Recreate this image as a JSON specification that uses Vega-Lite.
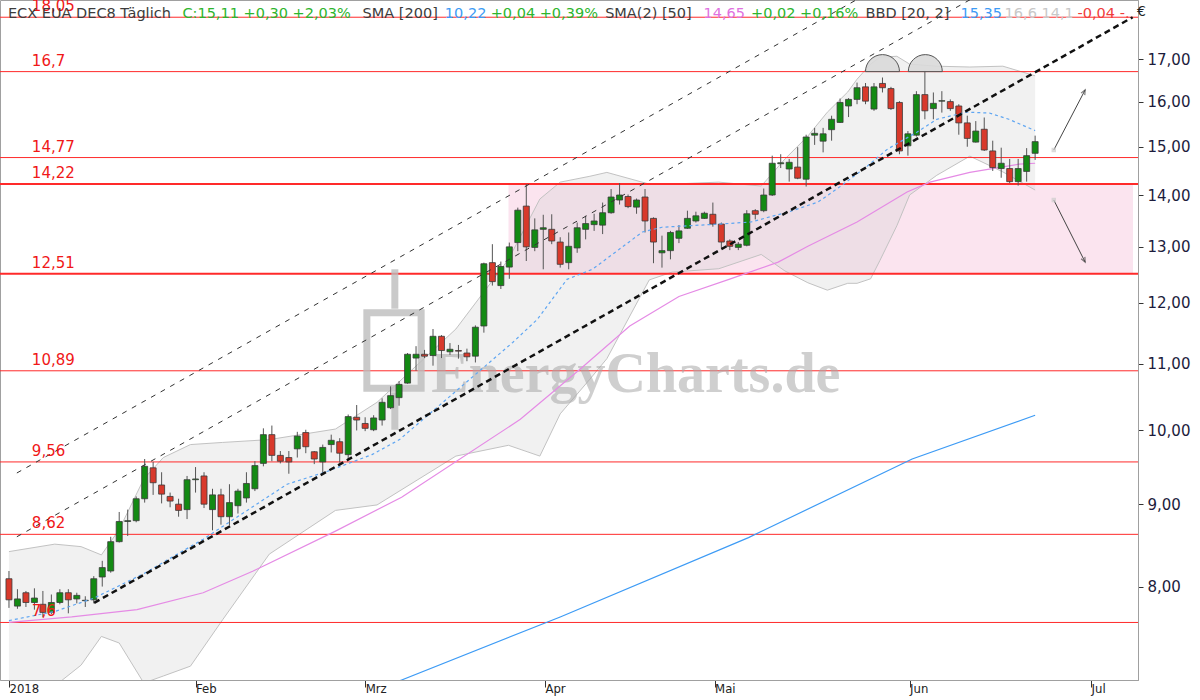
{
  "$schema": "https://vega.github.io/schema/vega-lite/v6.json",
  "width": 1138,
  "height": 680,
  "autosize": "none",
  "padding": {"left": 0, "top": 0, "right": 62, "bottom": 20},
  "background": "white",
  "config": {
    "view": {"stroke": "#a0a0a0", "strokeWidth": 1},
    "axis": {"grid": false}
  },
  "datasets": {
    "candles": [
      {"t":0,"o":8.09,"h":8.18,"l":7.76,"c":7.85},{"t":1,"o":7.78,"h":7.97,"l":7.75,"c":7.86},{"t":2,"o":7.93,"h":7.95,"l":7.77,"c":7.82},{"t":3,"o":7.82,"h":7.98,"l":7.74,"c":7.87},{"t":4,"o":7.80,"h":7.95,"l":7.66,"c":7.71},{"t":5,"o":7.71,"h":7.91,"l":7.69,"c":7.82},{"t":6,"o":7.82,"h":7.97,"l":7.80,"c":7.93},{"t":7,"o":7.93,"h":7.97,"l":7.70,"c":7.85},{"t":8,"o":7.86,"h":7.93,"l":7.81,"c":7.90},{"t":9,"o":7.84,"h":7.89,"l":7.77,"c":7.845},
      {"t":10,"o":7.85,"h":8.12,"l":7.81,"c":8.09},{"t":11,"o":8.11,"h":8.30,"l":8.00,"c":8.22},{"t":12,"o":8.18,"h":8.59,"l":8.16,"c":8.53},{"t":13,"o":8.53,"h":8.90,"l":8.52,"c":8.78},{"t":14,"o":8.78,"h":8.93,"l":8.60,"c":8.79},{"t":15,"o":8.79,"h":9.10,"l":8.77,"c":9.07},{"t":16,"o":9.07,"h":9.60,"l":9.02,"c":9.50},{"t":17,"o":9.48,"h":9.56,"l":9.12,"c":9.28},{"t":18,"o":9.25,"h":9.42,"l":9.01,"c":9.13},{"t":19,"o":9.10,"h":9.15,"l":8.96,"c":9.04},
      {"t":20,"o":9.00,"h":9.07,"l":8.84,"c":8.92},{"t":21,"o":8.93,"h":9.37,"l":8.81,"c":9.32},{"t":22,"o":9.32,"h":9.49,"l":9.15,"c":9.33},{"t":23,"o":9.37,"h":9.42,"l":8.95,"c":9.00},{"t":24,"o":8.93,"h":9.20,"l":8.67,"c":9.12},{"t":25,"o":9.12,"h":9.20,"l":8.74,"c":8.84},{"t":26,"o":8.84,"h":9.26,"l":8.73,"c":9.02},{"t":27,"o":8.98,"h":9.20,"l":8.88,"c":9.17},{"t":28,"o":9.08,"h":9.42,"l":9.02,"c":9.27},{"t":29,"o":9.20,"h":9.57,"l":9.17,"c":9.51},
      {"t":30,"o":9.54,"h":10.03,"l":9.50,"c":9.94},{"t":31,"o":9.94,"h":10.07,"l":9.57,"c":9.65},{"t":32,"o":9.65,"h":9.71,"l":9.54,"c":9.57},{"t":33,"o":9.62,"h":9.71,"l":9.40,"c":9.56},{"t":34,"o":9.74,"h":9.98,"l":9.62,"c":9.92},{"t":35,"o":9.97,"h":10.01,"l":9.68,"c":9.77},{"t":36,"o":9.70,"h":9.71,"l":9.53,"c":9.60},{"t":37,"o":9.56,"h":9.80,"l":9.41,"c":9.76},{"t":38,"o":9.80,"h":9.94,"l":9.69,"c":9.86},{"t":39,"o":9.84,"h":9.89,"l":9.55,"c":9.68},
      {"t":40,"o":9.66,"h":10.23,"l":9.60,"c":10.20},{"t":41,"o":10.19,"h":10.37,"l":10.00,"c":10.15},{"t":42,"o":10.10,"h":10.19,"l":9.99,"c":10.03},{"t":43,"o":10.01,"h":10.22,"l":9.99,"c":10.18},{"t":44,"o":10.15,"h":10.47,"l":10.07,"c":10.41},{"t":45,"o":10.33,"h":10.65,"l":10.31,"c":10.51},{"t":46,"o":10.48,"h":10.73,"l":10.36,"c":10.68},{"t":47,"o":10.70,"h":11.17,"l":10.69,"c":11.15},{"t":48,"o":11.09,"h":11.28,"l":10.89,"c":11.15},{"t":49,"o":11.15,"h":11.22,"l":11.09,"c":11.12},
      {"t":50,"o":11.13,"h":11.56,"l":10.97,"c":11.44},{"t":51,"o":11.44,"h":11.46,"l":11.09,"c":11.21},{"t":52,"o":11.19,"h":11.33,"l":11.14,"c":11.23},{"t":53,"o":11.21,"h":11.30,"l":11.08,"c":11.20},{"t":54,"o":11.17,"h":11.24,"l":11.04,"c":11.11},{"t":55,"o":11.12,"h":11.62,"l":11.02,"c":11.59},{"t":56,"o":11.61,"h":12.71,"l":11.50,"c":12.69},{"t":57,"o":12.71,"h":13.05,"l":12.30,"c":12.37},{"t":58,"o":12.30,"h":12.73,"l":12.24,"c":12.64},{"t":59,"o":12.63,"h":13.08,"l":12.42,"c":13.00},
      {"t":60,"o":13.08,"h":13.75,"l":12.92,"c":13.70},{"t":61,"o":13.78,"h":14.22,"l":12.74,"c":13.00},{"t":62,"o":12.99,"h":13.54,"l":12.92,"c":13.32},{"t":63,"o":13.33,"h":13.61,"l":12.59,"c":13.36},{"t":64,"o":13.33,"h":13.62,"l":13.05,"c":13.11},{"t":65,"o":13.09,"h":13.18,"l":12.62,"c":12.68},{"t":66,"o":12.71,"h":13.27,"l":12.59,"c":13.01},{"t":67,"o":12.98,"h":13.46,"l":12.89,"c":13.36},{"t":68,"o":13.33,"h":13.59,"l":13.14,"c":13.44},{"t":69,"o":13.42,"h":13.63,"l":13.30,"c":13.49},
      {"t":70,"o":13.41,"h":13.85,"l":13.24,"c":13.65},{"t":71,"o":13.65,"h":14.12,"l":13.63,"c":13.96},{"t":72,"o":13.90,"h":14.24,"l":13.81,"c":14.00},{"t":73,"o":13.97,"h":14.01,"l":13.74,"c":13.77},{"t":74,"o":13.76,"h":13.93,"l":13.63,"c":13.90},{"t":75,"o":13.96,"h":14.12,"l":13.27,"c":13.49},{"t":76,"o":13.54,"h":13.56,"l":12.70,"c":13.09},{"t":77,"o":12.89,"h":13.21,"l":12.62,"c":12.93},{"t":78,"o":12.93,"h":13.30,"l":12.77,"c":13.27},{"t":79,"o":13.16,"h":13.41,"l":13.07,"c":13.30},
      {"t":80,"o":13.35,"h":13.69,"l":13.34,"c":13.54},{"t":81,"o":13.49,"h":13.67,"l":13.46,"c":13.59},{"t":82,"o":13.54,"h":13.67,"l":13.53,"c":13.64},{"t":83,"o":13.62,"h":13.85,"l":13.38,"c":13.43},{"t":84,"o":13.43,"h":13.46,"l":12.98,"c":13.09},{"t":85,"o":13.11,"h":13.14,"l":12.94,"c":13.01},{"t":86,"o":12.99,"h":13.09,"l":12.94,"c":13.05},{"t":87,"o":13.03,"h":13.70,"l":13.01,"c":13.63},{"t":88,"o":13.69,"h":13.72,"l":13.52,"c":13.62},{"t":89,"o":13.69,"h":14.13,"l":13.66,"c":14.00},
      {"t":90,"o":14.00,"h":14.81,"l":13.98,"c":14.65},{"t":91,"o":14.64,"h":14.84,"l":14.55,"c":14.66},{"t":92,"o":14.53,"h":14.74,"l":14.27,"c":14.67},{"t":93,"o":14.57,"h":14.99,"l":14.32,"c":14.34},{"t":94,"o":14.32,"h":15.26,"l":14.17,"c":15.21},{"t":95,"o":15.25,"h":15.41,"l":15.04,"c":15.29},{"t":96,"o":15.12,"h":15.41,"l":14.88,"c":15.28},{"t":97,"o":15.37,"h":15.68,"l":15.13,"c":15.60},{"t":98,"o":15.53,"h":16.07,"l":15.52,"c":15.98},{"t":99,"o":15.90,"h":16.08,"l":15.65,"c":16.05},
      {"t":100,"o":16.05,"h":16.44,"l":15.94,"c":16.32},{"t":101,"o":16.34,"h":16.43,"l":15.94,"c":16.01},{"t":102,"o":15.83,"h":16.43,"l":15.79,"c":16.34},{"t":103,"o":16.42,"h":16.56,"l":16.21,"c":16.32},{"t":104,"o":16.30,"h":16.34,"l":15.81,"c":15.84},{"t":105,"o":15.98,"h":16.01,"l":14.84,"c":14.91},{"t":106,"o":15.02,"h":15.34,"l":14.81,"c":15.28},{"t":107,"o":15.25,"h":16.24,"l":15.22,"c":16.16},{"t":108,"o":16.16,"h":16.72,"l":15.60,"c":15.79},{"t":109,"o":15.84,"h":16.21,"l":15.60,"c":15.96},
      {"t":110,"o":16.01,"h":16.24,"l":15.75,"c":16.02},{"t":111,"o":16.00,"h":16.05,"l":15.79,"c":15.84},{"t":112,"o":15.90,"h":15.94,"l":15.26,"c":15.52},{"t":113,"o":15.52,"h":15.68,"l":15.00,"c":15.18},{"t":114,"o":15.10,"h":15.56,"l":15.09,"c":15.34},{"t":115,"o":15.38,"h":15.64,"l":14.91,"c":14.93},{"t":116,"o":14.91,"h":15.13,"l":14.49,"c":14.56},{"t":117,"o":14.54,"h":14.98,"l":14.35,"c":14.65},{"t":118,"o":14.54,"h":14.74,"l":14.24,"c":14.27},{"t":119,"o":14.27,"h":14.74,"l":14.19,"c":14.54},
      {"t":120,"o":14.48,"h":14.97,"l":14.27,"c":14.81},{"t":121,"o":14.86,"h":15.24,"l":14.72,"c":15.11}
    ],
    "bb": [
      {"t":0,"up":8.41,"lo":6.83},{"t":5.4,"up":8.50,"lo":6.94},{"t":8.5,"up":8.47,"lo":7.15},{"t":10.9,"up":8.37,"lo":7.45},{"t":13,"up":8.68,"lo":7.38},{"t":15.9,"up":9.33,"lo":6.97},{"t":18.2,"up":9.62,"lo":7.04},{"t":21.4,"up":9.80,"lo":7.14},{"t":25.2,"up":9.83,"lo":7.63},{"t":30.7,"up":9.87,"lo":8.38},{"t":38.5,"up":10.02,"lo":8.92},{"t":43.4,"up":10.41,"lo":8.99},{"t":52.7,"up":11.56,"lo":9.64},{"t":58.9,"up":12.77,"lo":9.79},{"t":62.6,"up":13.92,"lo":9.64},{"t":65,"up":14.26,"lo":10.24},{"t":68.5,"up":14.38,"lo":10.76},{"t":70.5,"up":14.46,"lo":11.08},{"t":75.5,"up":14.22,"lo":12.40},{"t":78.2,"up":14.22,"lo":12.54},{"t":83.7,"up":14.26,"lo":12.60},{"t":88.7,"up":14.18,"lo":12.86},{"t":91.5,"up":14.74,"lo":12.56},{"t":94.2,"up":15.23,"lo":12.35},{"t":96.5,"up":15.76,"lo":12.22},{"t":98.9,"up":16.22,"lo":12.34},{"t":100,"up":16.52,"lo":12.34},{"t":101.6,"up":16.88,"lo":12.42},{"t":102.7,"up":17.05,"lo":12.75},{"t":104.7,"up":17.07,"lo":13.40},{"t":106.2,"up":16.88,"lo":14.00},{"t":109.4,"up":16.83,"lo":14.40},{"t":113.3,"up":16.81,"lo":14.80},{"t":117.2,"up":16.83,"lo":14.47},{"t":121,"up":16.60,"lo":14.10}
    ],
    "mid": [
      {"t":0,"v":7.62},{"t":5.4,"v":7.72},{"t":10.05,"v":7.87},{"t":15.9,"v":8.15},{"t":22.9,"v":8.56},{"t":32.8,"v":9.26},{"t":37.5,"v":9.43},{"t":42.8,"v":9.66},{"t":46.05,"v":9.87},{"t":59.4,"v":11.34},{"t":62.3,"v":11.72},{"t":65.8,"v":12.41},{"t":68.8,"v":12.59},{"t":72,"v":12.96},{"t":74.7,"v":13.28},{"t":77,"v":13.37},{"t":83.7,"v":13.43},{"t":87.5,"v":13.47},{"t":92.2,"v":13.68},{"t":95.4,"v":13.86},{"t":98.1,"v":14.18},{"t":101.2,"v":14.59},{"t":103.6,"v":14.95},{"t":107.1,"v":15.32},{"t":109.4,"v":15.60},{"t":112.9,"v":15.76},{"t":115.6,"v":15.74},{"t":117.9,"v":15.60},{"t":121,"v":15.35}
    ],
    "sma50": [
      {"t":0,"v":7.60},{"t":7.4,"v":7.66},{"t":15.1,"v":7.74},{"t":22.9,"v":7.93},{"t":28.8,"v":8.18},{"t":38.5,"v":8.66},{"t":46.3,"v":9.09},{"t":60.3,"v":10.16},{"t":67.3,"v":10.91},{"t":73.2,"v":11.61},{"t":79,"v":12.11},{"t":84.9,"v":12.41},{"t":90.7,"v":12.72},{"t":94.2,"v":13.01},{"t":100,"v":13.47},{"t":105.9,"v":14.06},{"t":108.6,"v":14.26},{"t":113.3,"v":14.46},{"t":119.1,"v":14.63},{"t":121,"v":14.65}
    ],
    "sma200": [
      {"t":40,"v":6.80},{"t":46.3,"v":7.00},{"t":65,"v":7.66},{"t":87.2,"v":8.58},{"t":106.5,"v":9.60},{"t":121,"v":10.22}
    ],
    "levels": [
      {"v":18.05,"lab":"18,05"},{"v":16.7,"lab":"16,7"},{"v":14.77,"lab":"14,77"},{"v":14.22,"lab":"14,22"},{"v":12.51,"lab":"12,51"},{"v":10.89,"lab":"10,89"},{"v":9.56,"lab":"9,56"},{"v":8.62,"lab":"8,62"},{"v":7.6,"lab":"7,6"}
    ],
    "channel": [
      {"id":"a","t":0.93,"p":9.41},{"id":"a","t":102.4,"p":18.82},
      {"id":"b","t":0.93,"p":8.59},{"id":"b","t":116.4,"p":18.90}
    ],
    "support": [
      {"t":10.05,"p":7.816},{"t":132.5,"p":18.05}
    ],
    "tops": [
      {"t":103.0,"p":16.7},{"t":108.05,"p":16.7}
    ],
    "arrows": [
      {"t1":123.2,"p1":14.93,"t2":126.9,"p2":16.27},
      {"t1":123.2,"p1":13.90,"t2":126.9,"p2":12.72}
    ]
  },
  "layer": [
    {
      "data": {"values": [{}]},
      "mark": {"type": "rect", "fill": "#fbe4ef"},
      "encoding": {
        "x": {"datum": 58.9, "type": "quantitative", "title": null},
        "x2": {"datum": 132.54},
        "y": {"datum": 12.51, "type": "quantitative", "title": null},
        "y2": {"datum": 14.22}
      }
    },
    {
      "data": {"name": "bb"},
      "mark": {"type": "area", "fill": "#cfcfcf", "opacity": 0.3, "clip": true},
      "encoding": {
        "x": {"field": "t", "type": "quantitative", "title": null},
        "y": {"field": "up", "type": "quantitative", "title": null},
        "y2": {"field": "lo"}
      }
    },
    {
      "data": {"name": "bb"},
      "mark": {"type": "line", "color": "#c2c2c2", "strokeWidth": 1, "clip": true},
      "encoding": {
        "x": {"field": "t", "type": "quantitative", "title": null},
        "y": {"field": "up", "type": "quantitative", "title": null}
      }
    },
    {
      "data": {"name": "bb"},
      "mark": {"type": "line", "color": "#c2c2c2", "strokeWidth": 1, "clip": true},
      "encoding": {
        "x": {"field": "t", "type": "quantitative", "title": null},
        "y": {"field": "lo", "type": "quantitative", "title": null}
      }
    },
    {
      "data": {"name": "levels"},
      "mark": {"type": "rule", "color": "#ff2a2a"},
      "encoding": {
        "y": {"field": "v", "type": "quantitative", "title": null},
        "strokeWidth": {"condition": {"test": "datum.v == 14.22 || datum.v == 12.51", "value": 2}, "value": 1}
      }
    },
    {
      "data": {"values": [{}]},
      "mark": {"type": "rect", "fillOpacity": 0, "stroke": "#bdbdbd", "strokeWidth": 7, "opacity": 0.8},
      "encoding": {
        "x": {"datum": 42.2, "type": "quantitative", "title": null},
        "x2": {"datum": 48.6},
        "y": {"datum": 11.83, "type": "quantitative", "title": null},
        "y2": {"datum": 10.62}
      }
    },
    {
      "data": {"values": [{}]},
      "mark": {"type": "rule", "color": "#bdbdbd", "strokeWidth": 7, "opacity": 0.8},
      "encoding": {
        "x": {"datum": 45.5, "type": "quantitative", "title": null},
        "y": {"datum": 12.59, "type": "quantitative", "title": null},
        "y2": {"datum": 11.9}
      }
    },
    {
      "data": {"values": [{}]},
      "mark": {"type": "rule", "color": "#bdbdbd", "strokeWidth": 7, "opacity": 0.8},
      "encoding": {
        "x": {"datum": 45.5, "type": "quantitative", "title": null},
        "y": {"datum": 10.56, "type": "quantitative", "title": null},
        "y2": {"datum": 10.01}
      }
    },
    {
      "data": {"values": [{}]},
      "mark": {"type": "text", "text": "EnergyCharts.de", "font": "Liberation Serif", "fontSize": 56, "fontWeight": "bold", "color": "#a8a8a8", "opacity": 0.55, "align": "left", "baseline": "alphabetic"},
      "encoding": {
        "x": {"datum": 49.8, "type": "quantitative", "title": null},
        "y": {"datum": 10.57, "type": "quantitative", "title": null}
      }
    },
    {
      "data": {"name": "sma200"},
      "mark": {"type": "line", "color": "#3d9bf5", "strokeWidth": 1.2, "clip": true},
      "encoding": {
        "x": {"field": "t", "type": "quantitative", "title": null},
        "y": {"field": "v", "type": "quantitative", "title": null}
      }
    },
    {
      "data": {"name": "sma50"},
      "mark": {"type": "line", "color": "#e58be5", "strokeWidth": 1.2, "clip": true},
      "encoding": {
        "x": {"field": "t", "type": "quantitative", "title": null},
        "y": {"field": "v", "type": "quantitative", "title": null}
      }
    },
    {
      "data": {"name": "candles"},
      "mark": {"type": "rule", "color": "#555555", "strokeWidth": 1},
      "encoding": {
        "x": {"field": "t", "type": "quantitative", "title": null},
        "y": {"field": "l", "type": "quantitative", "title": null},
        "y2": {"field": "h"}
      }
    },
    {
      "data": {"name": "candles"},
      "mark": {"type": "bar", "size": 6, "stroke": "#3a3a3a", "strokeWidth": 0.8},
      "encoding": {
        "x": {
          "field": "t", "type": "quantitative", "title": null,
          "scale": {"domain": [-0.4675, 132.54], "nice": false, "zero": false},
          "axis": {
            "orient": "bottom",
            "values": [0, 22, 42, 63.2, 83.2, 106.2, 127.6],
            "labelExpr": "datum.value < 10 ? '2018' : datum.value < 30 ? 'Feb' : datum.value < 50 ? 'Mrz' : datum.value < 70 ? 'Apr' : datum.value < 90 ? 'Mai' : datum.value < 115 ? 'Jun' : 'Jul'",
            "domainColor": "#a0a0a0",
            "tickColor": "#333333",
            "tickSize": 7,
            "labelAlign": "left",
            "labelBaseline": "top",
            "labelPadding": -5,
            "labelDx": 2,
            "labelFont": "Liberation Sans Narrow, DejaVu Sans Condensed, sans-serif",
            "labelFontSize": 13,
            "labelColor": "#222222",
            "labelOverlap": false,
            "labelFlush": false
          }
        },
        "y": {
          "field": "o", "type": "quantitative", "title": null,
          "scale": {"type": "log", "domain": [7.0, 18.5], "nice": false, "zero": false},
          "axis": {
            "orient": "right",
            "values": [8, 9, 10, 11, 12, 13, 14, 15, 16, 17],
            "labelExpr": "replace(format(datum.value, '.2f'), '.', ',')",
            "domainColor": "#a0a0a0",
            "tickColor": "#333333",
            "tickSize": 5,
            "labelPadding": 4,
            "labelFont": "DejaVu Sans",
            "labelFontSize": 15,
            "labelColor": "#1c1c3c",
            "labelOverlap": false,
            "labelFlush": false,
            "title": null
          }
        },
        "y2": {"field": "c"},
        "color": {"condition": {"test": "datum.c >= datum.o", "value": "#138a13"}, "value": "#d8392b"}
      }
    },
    {
      "data": {"name": "mid"},
      "mark": {"type": "line", "color": "#5fa6f2", "strokeWidth": 1.2, "strokeDash": [3, 3], "clip": true},
      "encoding": {
        "x": {"field": "t", "type": "quantitative", "title": null},
        "y": {"field": "v", "type": "quantitative", "title": null}
      }
    },
    {
      "data": {"name": "channel"},
      "mark": {"type": "line", "color": "#333333", "strokeWidth": 1, "strokeDash": [5, 6], "clip": true},
      "encoding": {
        "x": {"field": "t", "type": "quantitative", "title": null},
        "y": {"field": "p", "type": "quantitative", "title": null},
        "detail": {"field": "id"}
      }
    },
    {
      "data": {"name": "support"},
      "mark": {"type": "line", "color": "#111111", "strokeWidth": 2.5, "strokeDash": [6, 4], "clip": true},
      "encoding": {
        "x": {"field": "t", "type": "quantitative", "title": null},
        "y": {"field": "p", "type": "quantitative", "title": null}
      }
    },
    {
      "data": {"name": "tops"},
      "mark": {"type": "point", "shape": "M -1 0 A 1 1 0 0 1 1 0 Z", "size": 1156, "filled": true, "fill": "#d9d9d9", "fillOpacity": 0.9, "stroke": "#555555", "strokeWidth": 1},
      "encoding": {
        "x": {"field": "t", "type": "quantitative", "title": null},
        "y": {"field": "p", "type": "quantitative", "title": null}
      }
    },
    {
      "data": {"name": "arrows"},
      "mark": {"type": "rule", "color": "#444444", "strokeWidth": 1},
      "encoding": {
        "x": {"field": "t1", "type": "quantitative", "title": null},
        "y": {"field": "p1", "type": "quantitative", "title": null},
        "x2": {"field": "t2"},
        "y2": {"field": "p2"}
      }
    },
    {
      "data": {"name": "arrows"},
      "mark": {"type": "point", "shape": "square", "size": 20, "filled": true, "color": "#cccccc"},
      "encoding": {
        "x": {"field": "t1", "type": "quantitative", "title": null},
        "y": {"field": "p1", "type": "quantitative", "title": null}
      }
    },
    {
      "data": {"values": [{}]},
      "mark": {"type": "point", "shape": "M -0.7 1.6 L 0 0 L 0.7 1.6", "size": 36, "filled": false, "stroke": "#444444", "strokeWidth": 1.2, "angle": 28},
      "encoding": {
        "x": {"datum": 126.9, "type": "quantitative", "title": null},
        "y": {"datum": 16.27, "type": "quantitative", "title": null}
      }
    },
    {
      "data": {"values": [{}]},
      "mark": {"type": "point", "shape": "M -0.7 1.6 L 0 0 L 0.7 1.6", "size": 36, "filled": false, "stroke": "#444444", "strokeWidth": 1.2, "angle": 153},
      "encoding": {
        "x": {"datum": 126.9, "type": "quantitative", "title": null},
        "y": {"datum": 12.72, "type": "quantitative", "title": null}
      }
    },
    {
      "data": {"name": "levels"},
      "mark": {"type": "text", "color": "#f01818", "font": "DejaVu Sans", "fontSize": 15, "align": "left", "baseline": "alphabetic", "dy": -6},
      "encoding": {
        "x": {"datum": 2.7, "type": "quantitative", "title": null},
        "y": {"field": "v", "type": "quantitative", "title": null},
        "text": {"field": "lab"}
      }
    },
    {"data": {"values": [{}]}, "mark": {"type": "text", "text": "€", "color": "#222222", "font": "DejaVu Sans", "fontSize": 14, "align": "left", "baseline": "alphabetic"}, "encoding": {"x": {"datum": 133.0, "type": "quantitative", "title": null}, "y": {"datum": 18.08, "type": "quantitative", "title": null}}},
    {"data": {"values": [{}]}, "mark": {"type": "text", "text": "ECX EUA DEC8 Täglich", "color": "#3c3c3c", "font": "DejaVu Sans", "fontSize": 14.5, "align": "left", "baseline": "middle"}, "encoding": {"x": {"datum": -0.12, "type": "quantitative", "title": null}, "y": {"datum": 18.13, "type": "quantitative", "title": null}}},
    {"data": {"values": [{}]}, "mark": {"type": "text", "text": "C:15,11 +0,30 +2,03%", "color": "#2db52d", "font": "DejaVu Sans", "fontSize": 14.5, "align": "left", "baseline": "middle"}, "encoding": {"x": {"datum": 20.45, "type": "quantitative", "title": null}, "y": {"datum": 18.13, "type": "quantitative", "title": null}}},
    {"data": {"values": [{}]}, "mark": {"type": "text", "text": "SMA [200]", "color": "#3c3c3c", "font": "DejaVu Sans", "fontSize": 14.5, "align": "left", "baseline": "middle"}, "encoding": {"x": {"datum": 41.7, "type": "quantitative", "title": null}, "y": {"datum": 18.13, "type": "quantitative", "title": null}}},
    {"data": {"values": [{}]}, "mark": {"type": "text", "text": "10,22", "color": "#3d9bf5", "font": "DejaVu Sans", "fontSize": 14.5, "align": "left", "baseline": "middle"}, "encoding": {"x": {"datum": 51.4, "type": "quantitative", "title": null}, "y": {"datum": 18.13, "type": "quantitative", "title": null}}},
    {"data": {"values": [{}]}, "mark": {"type": "text", "text": "+0,04 +0,39%", "color": "#2db52d", "font": "DejaVu Sans", "fontSize": 14.5, "align": "left", "baseline": "middle"}, "encoding": {"x": {"datum": 56.8, "type": "quantitative", "title": null}, "y": {"datum": 18.13, "type": "quantitative", "title": null}}},
    {"data": {"values": [{}]}, "mark": {"type": "text", "text": "SMA(2) [50]", "color": "#3c3c3c", "font": "DejaVu Sans", "fontSize": 14.5, "align": "left", "baseline": "middle"}, "encoding": {"x": {"datum": 70.3, "type": "quantitative", "title": null}, "y": {"datum": 18.13, "type": "quantitative", "title": null}}},
    {"data": {"values": [{}]}, "mark": {"type": "text", "text": "14,65", "color": "#e070e0", "font": "DejaVu Sans", "fontSize": 14.5, "align": "left", "baseline": "middle"}, "encoding": {"x": {"datum": 81.9, "type": "quantitative", "title": null}, "y": {"datum": 18.13, "type": "quantitative", "title": null}}},
    {"data": {"values": [{}]}, "mark": {"type": "text", "text": "+0,02 +0,16%", "color": "#2db52d", "font": "DejaVu Sans", "fontSize": 14.5, "align": "left", "baseline": "middle"}, "encoding": {"x": {"datum": 87.5, "type": "quantitative", "title": null}, "y": {"datum": 18.13, "type": "quantitative", "title": null}}},
    {"data": {"values": [{}]}, "mark": {"type": "text", "text": "BBD [20, 2]", "color": "#3c3c3c", "font": "DejaVu Sans", "fontSize": 14.5, "align": "left", "baseline": "middle"}, "encoding": {"x": {"datum": 101.0, "type": "quantitative", "title": null}, "y": {"datum": 18.13, "type": "quantitative", "title": null}}},
    {"data": {"values": [{}]}, "mark": {"type": "text", "text": "15,35", "color": "#3d9bf5", "font": "DejaVu Sans", "fontSize": 14.5, "align": "left", "baseline": "middle"}, "encoding": {"x": {"datum": 112.2, "type": "quantitative", "title": null}, "y": {"datum": 18.13, "type": "quantitative", "title": null}}},
    {"data": {"values": [{}]}, "mark": {"type": "text", "text": "16,6 14,1", "color": "#c8c8c8", "font": "DejaVu Sans", "fontSize": 14.5, "align": "left", "baseline": "middle"}, "encoding": {"x": {"datum": 117.4, "type": "quantitative", "title": null}, "y": {"datum": 18.13, "type": "quantitative", "title": null}}},
    {"data": {"values": [{}]}, "mark": {"type": "text", "text": "-0,04 -.", "color": "#f03c3c", "font": "DejaVu Sans", "fontSize": 14.5, "align": "left", "baseline": "middle"}, "encoding": {"x": {"datum": 126.0, "type": "quantitative", "title": null}, "y": {"datum": 18.13, "type": "quantitative", "title": null}}}
  ]
}
